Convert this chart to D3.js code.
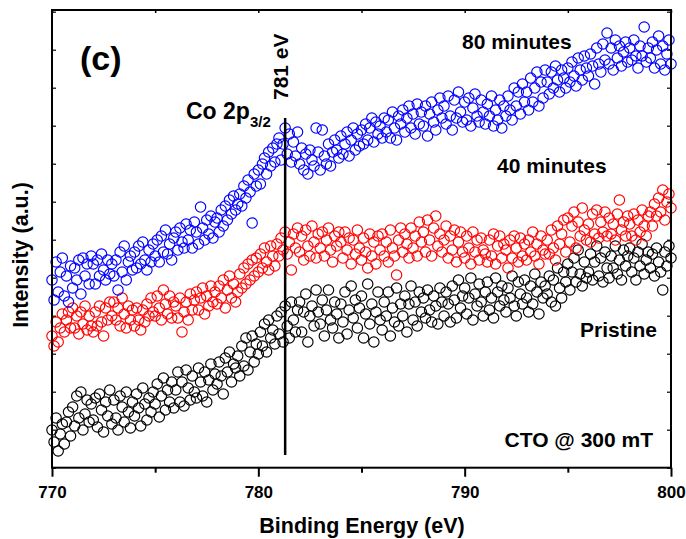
<!DOCTYPE html>
<html><head><meta charset="utf-8">
<script src="https://cdn.jsdelivr.net/npm/d3@7"></script>
<style>body{margin:0;background:#fff}text{font-family:"Liberation Sans",Arial,sans-serif;font-weight:bold}</style>
</head><body><svg id="c" width="686" height="539"></svg>
<script>
// Binding energy axis: 770 to 800 eV in 0.1 eV steps
const xStart = 770, xStep = 0.1;
const xTicks = [770, 780, 790, 800];
const xMinorTicks = [775, 785, 795];
const peakEnergy = 781.3;
const seriesNames = ["Pristine", "40 minutes", "80 minutes"];
const seriesColors = ["#000000", "#ff0000", "#0000ff"];
// Intensity (a.u.)
const pristine = [
32,20,44,11,28,38,18,40,50,26, 55,36,66,44,70,32,48,62,40,58,
42,64,35,68,52,30,60,46,72,38, 62,44,32,66,55,40,70,50,34,60,
46,68,54,36,74,58,42,64,50,70, 58,78,45,66,84,52,72,60,80,54,
72,90,60,80,56,92,74,62,86,70, 64,94,80,66,90,60,82,98,72,88,
78,100,86,68,104,90,110,80,98,94, 106,86,116,96,124,92,110,126,100,118,
108,130,116,138,110,142,124,132,118,146, 128,150,120,156,136,124,160,142,130,152,
160,130,150,168,120,146,156,136,172,150, 138,162,126,152,172,142,134,160,148,124,
158,140,170,128,152,176,144,162,134,154, 166,124,148,178,138,158,120,150,170,142,
132,160,146,170,126,154,140,174,136,158, 146,166,130,158,176,142,160,136,170,150,
164,144,172,152,140,166,156,138,174,160, 146,170,158,140,176,162,144,182,154,166,
174,148,164,184,142,168,156,178,160,146, 170,180,152,164,144,184,170,156,176,162,
150,174,164,186,156,146,180,168,158,182, 164,150,176,158,188,170,148,180,164,176,
168,186,160,182,156,194,174,164,190,180, 198,172,190,204,180,212,188,176,200,184,
190,208,182,200,216,186,204,180,210,194, 184,206,194,216,188,202,182,212,196,206,
214,190,204,182,210,196,218,188,202,210, 194,208,186,214,200,190,172,210,196,216,
204];
const min40 = [
126,116,140,120,134,148,130,142,150,134, 154,134,146,128,150,138,156,132,146,136,
130,150,136,156,140,126,154,142,160,146, 160,142,154,136,164,148,134,156,142,152,
136,154,142,132,152,140,158,146,164,150, 146,166,154,142,172,158,148,166,144,160,
156,144,164,130,150,160,142,168,152,162, 170,152,164,174,148,166,156,176,160,170,
158,176,164,182,154,172,186,164,178,160, 170,188,174,194,178,198,182,202,186,204,
190,208,194,214,200,192,216,206,196,218, 206,224,212,230,208,220,192,228,214,234,
210,226,202,232,216,206,236,220,204,228, 214,230,206,222,234,212,200,226,216,230,
220,204,230,212,224,198,222,208,232,214, 202,224,210,194,228,206,220,198,226,212,
228,206,220,200,232,214,206,187,222,234, 210,228,218,204,234,214,226,206,240,220,
230,210,242,222,206,234,246,216,228,210, 222,236,204,226,212,232,200,220,230,210,
204,226,214,198,230,210,222,202,224,212, 208,200,222,206,228,198,216,226,204,218,
212,194,222,204,226,214,200,224,206,218, 202,222,210,230,206,218,198,226,212,208,
222,208,232,214,202,236,218,228,242,210, 244,220,236,250,214,240,226,254,232,222,
238,220,248,228,252,224,240,230,250,226, 244,228,238,222,248,262,232,240,226,246,
238,226,248,222,242,230,252,236,226,246, 250,236,258,246,264,250,272,242,260,268,
254];
const min80 = [
182,162,200,170,190,204,166,186,160,196, 174,194,182,202,168,204,186,198,178,206,
198,178,202,186,208,192,182,202,188,198, 186,202,172,210,190,216,182,200,206,192,
210,194,216,198,220,202,192,212,200,218, 206,222,200,226,210,232,208,218,202,224,
230,212,234,220,214,238,222,232,214,240, 230,218,255,234,222,242,228,246,224,240,
244,230,252,236,256,242,262,248,266,252, 258,268,256,276,264,282,270,239,288,276,
292,278,298,304,288,310,296,314,300,318, 324,302,318,334,308,328,300,320,306,330,
298,314,292,308,288,312,302,296,334,310, 292,332,306,298,318,296,310,322,312,304,
326,308,318,330,306,322,334,312,328,316, 332,318,338,322,334,344,320,340,328,336,
324,344,330,342,324,350,334,322,346,338, 352,330,344,356,334,348,328,358,338,350,
336,356,326,348,360,340,332,352,364,344, 356,338,366,346,332,362,344,370,350,340,
360,342,364,336,354,368,346,340,362,350, 338,358,346,366,336,352,342,362,334,356,
346,366,352,342,374,356,370,348,378,360, 370,352,384,360,374,390,356,380,364,392,
380,368,390,374,396,382,370,392,384,374, 394,380,400,386,376,404,392,382,406,394,
386,408,396,378,414,398,390,418,402,429, 398,414,392,422,404,416,396,410,420,400,
414,402,422,406,394,416,406,435,400,414, 404,420,394,412,426,398,416,392,408,422,
398];

const svg = d3.select("#c");
const L = 52, R = 671, T = 10, B = 467.7;
const x = d3.scaleLinear().domain([770, 800]).range([L, R]);
const y = d3.scaleLinear().domain([-5.7, 452]).range([B, T]);

// data points
[pristine, min40, min80].forEach((vals, si) => {
  svg.append("g").selectAll("circle").data(vals).join("circle")
    .attr("cx", (d, i) => x(xStart + i * xStep))
    .attr("cy", d => y(d))
    .attr("r", 5.2)
    .attr("fill", "none")
    .attr("stroke", seriesColors[si])
    .attr("stroke-width", 1.15);
});

// peak line
svg.append("line").attr("x1", x(peakEnergy)).attr("x2", x(peakEnergy))
  .attr("y1", 118).attr("y2", 455).attr("stroke", "#000").attr("stroke-width", 2.5);

// frame
svg.append("rect").attr("x", L).attr("y", T).attr("width", R - L).attr("height", B - T)
  .attr("fill", "none").attr("stroke", "#000").attr("stroke-width", 2);

// bottom axis
const xAxis = d3.axisBottom(x).tickValues(xTicks).tickSize(9).tickFormat(d3.format("d"));
const gx = svg.append("g").attr("transform", `translate(0,${B})`).call(xAxis);
gx.select(".domain").remove();
gx.selectAll("line").attr("stroke-width", 2);
gx.selectAll("text").attr("font-size", 17).attr("dy", "1.05em").attr("fill", "#000");
const gxm = svg.append("g").attr("transform", `translate(0,${B})`)
  .call(d3.axisBottom(x).tickValues(xMinorTicks).tickSize(5).tickFormat(""));
gxm.select(".domain").remove();
gxm.selectAll("line").attr("stroke-width", 2);

// top axis inward ticks
const gt = svg.append("g").attr("transform", `translate(0,${T})`)
  .call(d3.axisTop(x).tickValues(xTicks.concat(xMinorTicks)).tickSize(-3).tickFormat(""));
gt.select(".domain").remove();
gt.selectAll("line").attr("stroke-width", 1.5);

// left/right inward ticks
const yTickVals = d3.range(-5.7, 452, 38);
const gl = svg.append("g").attr("transform", `translate(${L},0)`)
  .call(d3.axisLeft(y).tickValues(yTickVals).tickSize(-4).tickFormat(""));
gl.select(".domain").remove();
gl.selectAll("line").attr("stroke-width", 1.2);
const gr = svg.append("g").attr("transform", `translate(${R},0)`)
  .call(d3.axisRight(y).tickValues(yTickVals).tickSize(-4).tickFormat(""));
gr.select(".domain").remove();
gr.selectAll("line").attr("stroke-width", 1.2);

// axis titles
svg.append("text").attr("x", 362).attr("y", 533).attr("text-anchor", "middle")
  .attr("font-size", 21.5).text("Binding Energy (eV)");
svg.append("text").attr("transform", "translate(28,255) rotate(-90)").attr("text-anchor", "middle")
  .attr("font-size", 21.5).text("Intensity (a.u.)");

// annotations
svg.append("text").attr("x", 80).attr("y", 70).attr("font-size", 34).text("(c)");
const co = svg.append("text").attr("x", 186).attr("y", 119).attr("font-size", 23).text("Co 2p");
co.append("tspan").attr("font-size", 15).attr("dy", 8).text("3/2");
svg.append("text").attr("transform", "translate(288,100) rotate(-90)").attr("font-size", 21).text("781 eV");
svg.append("text").attr("x", 462).attr("y", 49).attr("font-size", 21).text(seriesNames[2]);
svg.append("text").attr("x", 497).attr("y", 173).attr("font-size", 21).text(seriesNames[1]);
svg.append("text").attr("x", 657).attr("y", 337).attr("text-anchor", "end").attr("font-size", 21).text(seriesNames[0]);
svg.append("text").attr("x", 653).attr("y", 447).attr("text-anchor", "end").attr("font-size", 21).text("CTO @ 300 mT");
</script></body></html>
